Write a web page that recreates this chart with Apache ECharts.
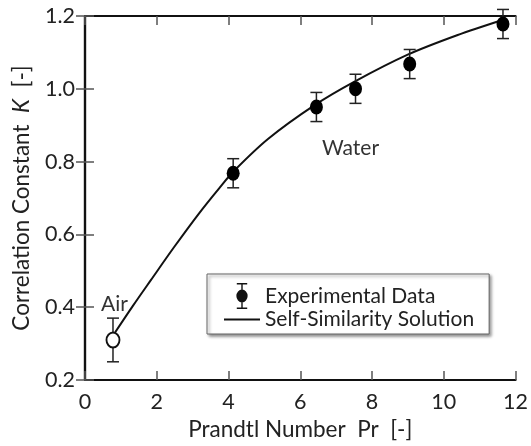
<!DOCTYPE html>
<html>
<head>
<meta charset="utf-8">
<script src="https://cdn.jsdelivr.net/npm/echarts@6/dist/echarts.min.js"></script>
<style>
  html, body { margin: 0; padding: 0; background: #fff; }
  #chart { width: 531px; height: 446px; }
</style>
</head>
<body>
<div id="chart"></div>
<script>
// measured points (Pr, K, +/- error)
var prandtl = [0.78, 4.13, 6.45, 7.54, 9.05, 11.65];
var kValues = [0.31, 0.768, 0.95, 1.0, 1.068, 1.178];
var kError = [0.06, 0.04, 0.04, 0.04, 0.04, 0.04];

// self-similarity solution curve
var solPr = [0.8, 1.33, 1.84, 2.49, 3.18, 3.75, 4.15, 5.1, 6.4, 7.5, 8.98, 10.37, 11.7];
var solK = [0.325, 0.403, 0.475, 0.566, 0.658, 0.728, 0.774, 0.862, 0.955, 1.019, 1.093, 1.147, 1.191];

var xTicks = { min: 0, max: 12, interval: 2 };
var yTicks = { min: 0.2, max: 1.2, interval: 0.2 };

var font = 'Lato';
var textColor = '#222';

function ChartLoad() {
    var dom = document.getElementById('chart');
    var chart = echarts.init(dom);

    var curveData = solPr.map(function (x, i) { return [x, solK[i]]; });
    var errData = prandtl.map(function (x, i) { return [x, kValues[i], kError[i]]; });
    var pointData = prandtl.map(function (x, i) {
        var item = { value: [x, kValues[i]] };
        if (i === 0) {
            // air point drawn open
            item.itemStyle = { color: '#fff', borderColor: '#111', borderWidth: 2 };
        }
        return item;
    });

    var tick = { show: true, inside: true, length: 9, lineStyle: { color: '#555', width: 1.5 } };
    var line = { show: true, lineStyle: { color: '#111', width: 2.2 } };

    var option = {
        backgroundColor: '#fff',
        animation: false,
        grid: { left: 85, right: 12, top: 16, bottom: 66 },
        textStyle: { fontFamily: font },
        xAxis: [
            {
                type: 'value',
                min: xTicks.min, max: xTicks.max, interval: xTicks.interval,
                name: 'Prandtl Number  Pr  [-]',
                nameLocation: 'middle',
                nameGap: 37,
                nameTextStyle: { fontFamily: font, fontSize: 22.5, color: textColor },
                axisLine: line,
                axisTick: tick,
                splitLine: { show: false },
                axisLabel: { fontFamily: font, fontSize: 21.5, color: textColor, margin: 11 }
            },
            {
                type: 'value', position: 'top',
                min: xTicks.min, max: xTicks.max, interval: xTicks.interval,
                axisLine: line,
                axisTick: tick,
                splitLine: { show: false },
                axisLabel: { show: false }
            }
        ],
        yAxis: [
            {
                type: 'value',
                min: yTicks.min, max: yTicks.max, interval: yTicks.interval,
                name: 'Correlation Constant  {i|K}  [-]',
                nameLocation: 'middle',
                nameGap: 52,
                nameTextStyle: {
                    fontFamily: font, fontSize: 22.5, color: textColor,
                    rich: { i: { fontFamily: font, fontSize: 22.5, fontStyle: 'italic', color: textColor } }
                },
                axisLine: line,
                axisTick: tick,
                splitLine: { show: false },
                axisLabel: {
                    fontFamily: font, fontSize: 21.5, color: textColor, margin: 10,
                    formatter: function (v) { return v.toFixed(1); }
                }
            },
            {
                type: 'value', position: 'right',
                min: yTicks.min, max: yTicks.max, interval: yTicks.interval,
                axisLine: line,
                axisTick: tick,
                splitLine: { show: false },
                axisLabel: { show: false }
            }
        ],
        legend: {
            orient: 'vertical',
            left: 207,
            top: 274,
            padding: [9, 15, 4, 17],
            itemWidth: 36,
            itemHeight: 26,
            itemGap: 0,
            backgroundColor: '#fff',
            borderColor: '#666',
            borderWidth: 1,
            shadowBlur: 3,
            shadowColor: 'rgba(0,0,0,0.45)',
            shadowOffsetX: 2,
            shadowOffsetY: 2,
            textStyle: { fontFamily: font, fontSize: 21, color: textColor },
            data: [
                {
                    name: 'Experimental Data',
                    icon: 'path://M4 0H16V1.6H4Z M9.2 1.6H10.8V8H9.2Z M3.5 15A6.5 7.5 0 1 1 16.5 15A6.5 7.5 0 1 1 3.5 15Z M9.2 22H10.8V28.4H9.2Z M4 28.4H16V30H4Z',
                    itemStyle: { color: '#111' }
                },
                {
                    name: 'Self-Similarity Solution',
                    icon: 'path://M0 0H36V2.2H0Z',
                    itemStyle: { color: '#111' }
                }
            ]
        },
        graphic: [
            { type: 'text', left: 101, top: 294, style: { text: 'Air', fontFamily: font, fontSize: 21, fill: '#333' } },
            { type: 'text', left: 322, top: 138, style: { text: 'Water', fontFamily: font, fontSize: 21, fill: '#333' } }
        ],
        series: [
            {
                name: 'Self-Similarity Solution',
                type: 'line',
                data: curveData,
                smooth: 0.3,
                showSymbol: false,
                symbol: 'none',
                lineStyle: { color: '#111', width: 2 },
                itemStyle: { color: '#111' },
                z: 2
            },
            {
                name: 'error',
                type: 'custom',
                data: errData,
                z: 3,
                renderItem: function (params, api) {
                    var x = api.value(0);
                    var y = api.value(1);
                    var e = api.value(2);
                    var hi = api.coord([x, y + e]);
                    var lo = api.coord([x, y - e]);
                    var w = 6;
                    var st = { stroke: '#222', lineWidth: 1.5 };
                    return {
                        type: 'group',
                        children: [
                            { type: 'line', shape: { x1: hi[0], y1: hi[1], x2: lo[0], y2: lo[1] }, style: st },
                            { type: 'line', shape: { x1: hi[0] - w, y1: hi[1], x2: hi[0] + w, y2: hi[1] }, style: st },
                            { type: 'line', shape: { x1: lo[0] - w, y1: lo[1], x2: lo[0] + w, y2: lo[1] }, style: st }
                        ]
                    };
                }
            },
            {
                name: 'Experimental Data',
                type: 'scatter',
                data: pointData,
                symbol: 'circle',
                symbolSize: [13, 15],
                itemStyle: { color: '#000', opacity: 1 },
                z: 4
            }
        ]
    };

    chart.setOption(option, true);
}

ChartLoad();
</script>
</body>
</html>
